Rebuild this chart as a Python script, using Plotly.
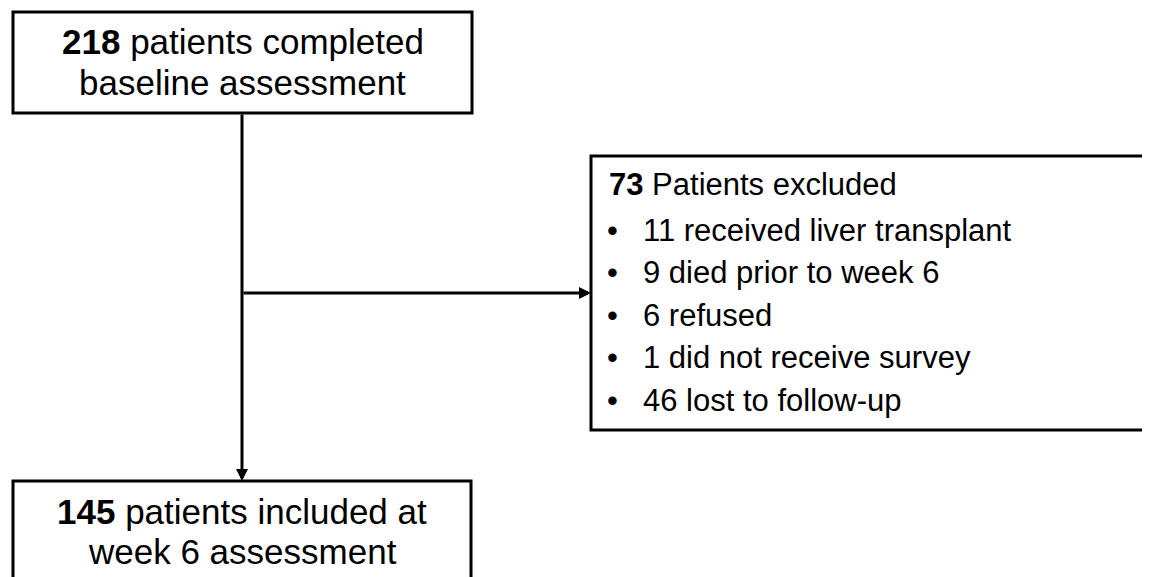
import plotly.graph_objects as go

# ---- data ----
baseline_n = 218
baseline_text = ["patients completed", "baseline assessment"]
excluded_n = 73
excluded_title = "Patients excluded"
excluded_counts = [11, 9, 6, 1, 46]
excluded_reasons = ["received liver transplant", "died prior to week 6", "refused",
                    "did not receive survey", "lost to follow-up"]
included_n = 145
included_text = ["patients included at", "week 6 assessment"]

W, H = 1150, 577
OFF = 8  # page body margin, so data coords == page pixels
FONT = "Liberation Sans, Arial, sans-serif"
BIG = 35
SMALL = 31
LW = 3

# layout geometry (pixels)
top_box = (13, 12, 472, 113)
bot_box = (13, 481, 471, 610)
right_box = (591, 156, 1175, 430)
trunk_x = 242
branch_y = 293

fig = go.Figure()
fig.add_trace(go.Scatter(x=[OFF, W], y=[OFF, H], mode="markers", marker=dict(opacity=0),
                         hoverinfo="skip", showlegend=False))

shapes = []
for (x0, y0, x1, y1) in (top_box, bot_box, right_box):
    shapes.append(dict(type="rect", x0=x0, y0=y0, x1=x1, y1=y1, xref="x", yref="y",
                       line=dict(color="black", width=LW), fillcolor="white", layer="below"))

ann = []
# arrows
ann.append(dict(x=trunk_x, y=bot_box[1], ax=trunk_x, ay=top_box[3], xref="x", yref="y",
                axref="x", ayref="y", showarrow=True, arrowhead=2, arrowsize=0.8,
                arrowwidth=LW, arrowcolor="black", text=""))
ann.append(dict(x=right_box[0], y=branch_y, ax=trunk_x, ay=branch_y, xref="x", yref="y",
                axref="x", ayref="y", showarrow=True, arrowhead=2, arrowsize=0.8,
                arrowwidth=LW, arrowcolor="black", text=""))

def txt(x, y, s, size, xanchor="center"):
    ann.append(dict(x=x, y=y, xref="x", yref="y", text=s, showarrow=False,
                    xanchor=xanchor, yanchor="middle",
                    font=dict(family=FONT, size=size, color="black")))

cx_top = (top_box[0] + top_box[2]) / 2
txt(cx_top, 41, f"<b>{baseline_n}</b> {baseline_text[0]}", BIG)
txt(cx_top, 82, baseline_text[1], BIG)

cx_bot = (bot_box[0] + bot_box[2]) / 2
txt(cx_bot, 511, f"<b>{included_n}</b> {included_text[0]}", BIG)
txt(cx_bot, 551, included_text[1], BIG)

txt(607, 184, f"<b>{excluded_n}</b> {excluded_title}", SMALL, "left")
for i, (n, r) in enumerate(zip(excluded_counts, excluded_reasons)):
    yy = 230 + i * 42.5
    txt(612, yy, "•", SMALL)
    txt(641, yy, f"{n} {r}", SMALL, "left")

fig.update_layout(
    width=W, height=H, margin=dict(l=0, r=0, t=0, b=0),
    paper_bgcolor="white", plot_bgcolor="white",
    xaxis=dict(range=[OFF, W + OFF], visible=False, fixedrange=True),
    yaxis=dict(range=[H + OFF, OFF], visible=False, fixedrange=True),
    shapes=shapes, annotations=ann, showlegend=False,
)
fig.write_html("out.html")
